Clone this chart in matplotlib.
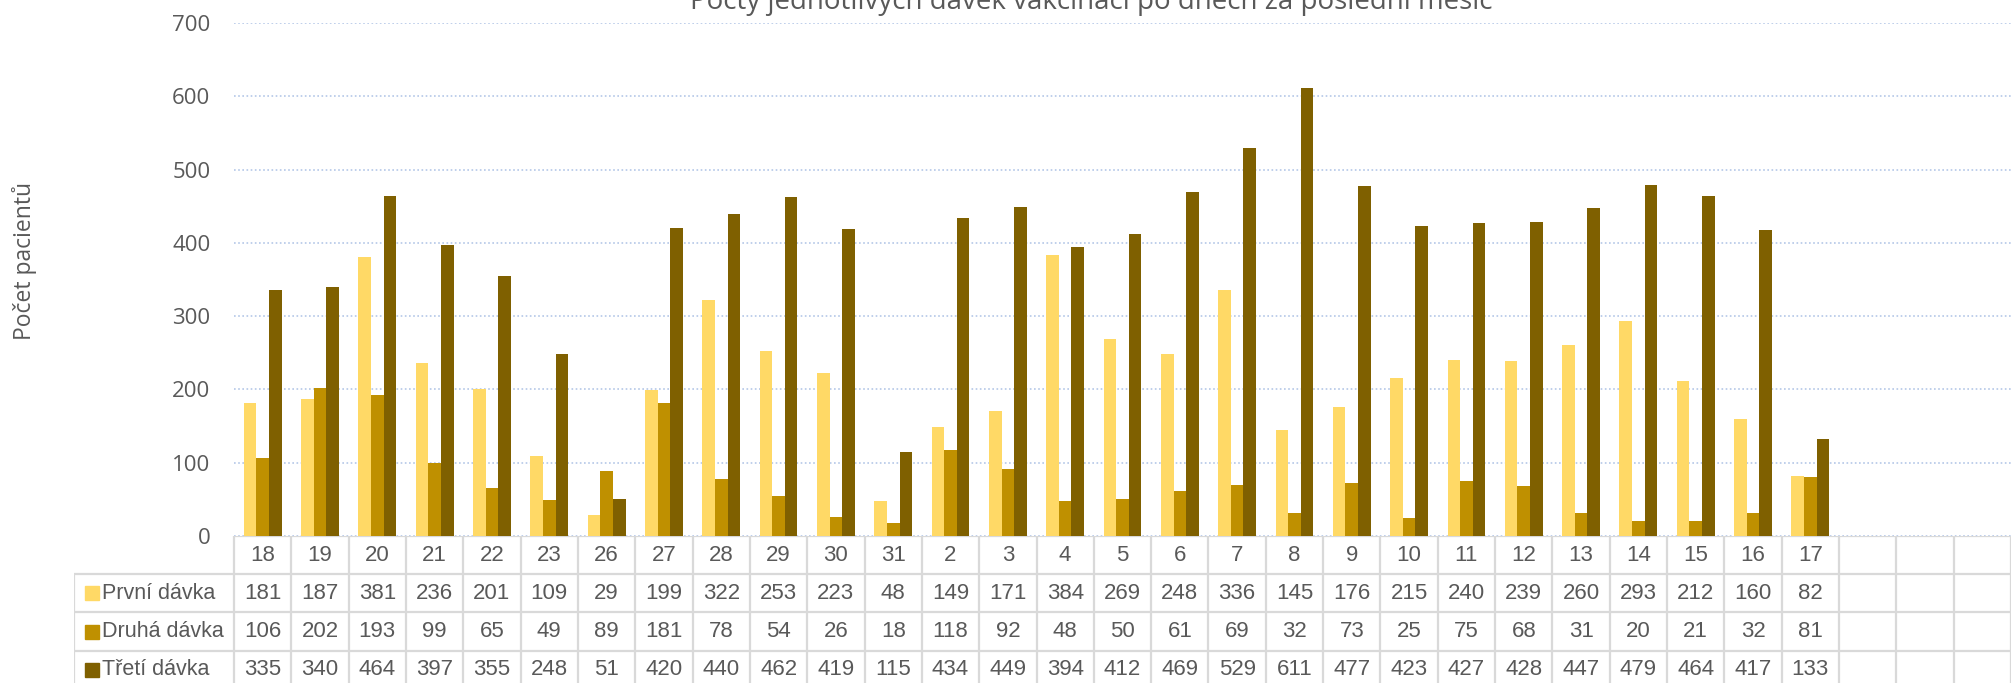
import matplotlib
matplotlib.use('Agg')
import matplotlib.pyplot as plt
import numpy as np

days = ['18', '19', '20', '21', '22', '23', '26', '27', '28', '29', '30', '31',
        '2', '3', '4', '5', '6', '7', '8', '9', '10', '11', '12', '13', '14', '15', '16', '17']
prvni = [181, 187, 381, 236, 201, 109, 29, 199, 322, 253, 223, 48, 149, 171, 384,
         269, 248, 336, 145, 176, 215, 240, 239, 260, 293, 212, 160, 82]
druha = [106, 202, 193, 99, 65, 49, 89, 181, 78, 54, 26, 18, 118, 92, 48,
         50, 61, 69, 32, 73, 25, 75, 68, 31, 20, 21, 32, 81]
treti = [335, 340, 464, 397, 355, 248, 51, 420, 440, 462, 419, 115, 434, 449, 394,
         412, 469, 529, 611, 477, 423, 427, 428, 447, 479, 464, 417, 133]
series_names = ['První dávka', 'Druhá dávka', 'Třetí dávka']
colors = ['#FFD966', '#BF9000', '#7F6000']
n_slots = 31  # the table has three empty columns at the end

W, H = 2011, 683
fig = plt.figure(figsize=(W / 100, H / 100), dpi=100)
txt = '#595959'
axis_font = ['Open Sans', 'DejaVu Sans']
table_font = ['Liberation Sans', 'DejaVu Sans']

# pixel layout
left, right = 234, 2011
y0, y700 = 536, 23
col_w = (right - left) / n_slots

ax = fig.add_axes([left / W, (H - y0) / H, (right - left) / W, (y0 - y700) / H])
x = np.arange(len(days))
bw = 0.22
for k, vals in enumerate([prvni, druha, treti]):
    ax.bar(x + (k - 1) * bw, vals, width=bw, color=colors[k], zorder=3)
ax.set_xlim(-0.5, n_slots - 0.5)
ax.set_ylim(0, 700)
ax.set_yticks(range(0, 701, 100))
ax.set_xticks([])
for s in ax.spines.values():
    s.set_visible(False)
ax.tick_params(axis='y', length=0, pad=17, labelsize=16, labelcolor=txt)
for lab in ax.get_yticklabels():
    lab.set_family(axis_font)
ax.grid(axis='y', color='#B4C7E7', linestyle=(0, (1, 1.5)), linewidth=1.2, zorder=0)

fig.text(25 / W, (H - 261) / H, 'Počet pacientů', rotation=90, ha='center', va='center',
         fontsize=16.5, color=txt, family=axis_font)
# title sits partly above the top edge, as in the original export
fig.text(1091 / W, 1 - 9 / H, 'Počty jednotlivých dávek vakcinací po dnech za poslední měsíc',
         ha='center', va='baseline', fontsize=20, color=txt, family=axis_font)

# data table under the chart
row_h = 38.2
tab_left = 74
tab_bottom = y0 + 4 * row_h
tab = fig.add_axes([tab_left / W, (H - tab_bottom) / H, (right - tab_left) / W, 4 * row_h / H])
xl = -0.5 - (left - tab_left) / col_w
tab.set_xlim(xl, n_slots - 0.5)
tab.set_ylim(4, 0)
tab.axis('off')
lc = '#D9D9D9'
lw = 1.6
tab.hlines(0, -0.5, n_slots - 0.5, color=lc, lw=lw)
tab.hlines([1, 2, 3, 4], xl, n_slots - 0.5, color=lc, lw=lw)
tab.vlines(np.arange(n_slots + 1) - 0.5, 0, 4, color=lc, lw=lw)
tab.vlines(xl, 1, 4, color=lc, lw=lw)

fs = 16
for i, d in enumerate(days):
    tab.text(i, 0.5, d, ha='center', va='center', fontsize=fs, color=txt, family=table_font)
for r, vals in enumerate([prvni, druha, treti]):
    for i, v in enumerate(vals):
        tab.text(i, r + 1.5, str(v), ha='center', va='center', fontsize=fs, color=txt,
                 family=table_font)
    sq_x = xl + (92.5 - tab_left) / col_w
    tab.plot(sq_x, r + 1.5, marker='s', markersize=9.5, color=colors[r], clip_on=False)
    tab.text(xl + (102 - tab_left) / col_w, r + 1.5, series_names[r], ha='left', va='center',
             fontsize=15.5, color=txt, family=table_font)

fig.savefig('out.png', dpi=100)
